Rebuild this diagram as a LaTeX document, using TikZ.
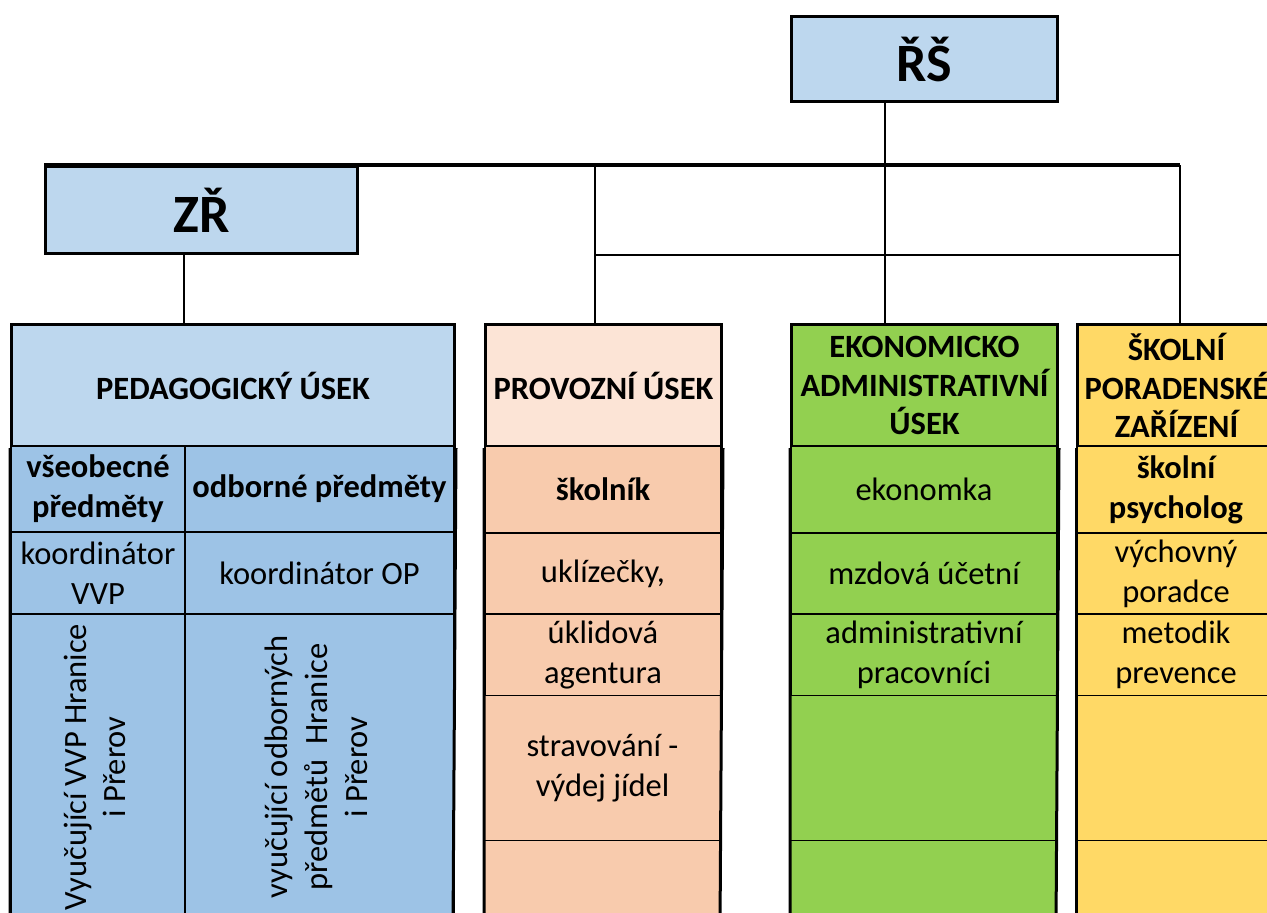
\documentclass[tikz,border=0pt]{standalone}
\usepackage{fontspec}
\setmainfont{Carlito}
\usepackage{tikz}
\usetikzlibrary{positioning}

\definecolor{hdrblue}{HTML}{BDD7EE}
\definecolor{pedblue}{HTML}{9DC3E6}
\definecolor{peach}{HTML}{FCE4D6}
\definecolor{peachdk}{HTML}{F8CBAD}
\definecolor{ekogreen}{HTML}{92D050}
\definecolor{spzyellow}{HTML}{FFD966}

\begin{document}
\begin{tikzpicture}[x=1pt, y=-1pt,
    every node/.append style={align=center, inner sep=0pt, anchor=north west},
    top/.style={draw, line width=3pt, fill=hdrblue, font=\fontsize{54}{60}\selectfont\bfseries},
    hdr/.style={draw, line width=3pt, font=\fontsize{32.5}{38.5}\selectfont\bfseries},
    cell/.style={draw, line width=2pt, font=\fontsize{32.5}{40}\selectfont},
    bold/.style={font=\fontsize{32.5}{40}\selectfont\bfseries},
    low/.style={draw, line width=1pt},
    bus/.style={line width=3.5pt},
    link/.style={line width=2.5pt}]
  \useasboundingbox (0,0) rectangle (1267,913);
  \clip (0,0) rectangle (1267,913);

  \node [top, minimum width=266pt, minimum height=85pt] (rs) at (790,15) {ŘŠ};
  \node [top, minimum width=312pt, minimum height=87pt] (zr) at (44,165) {ZŘ};

  \coordinate (j0) at (184,252);
  \coordinate (j1) at (885,165);
  \coordinate (j2) at (595,165);
  \coordinate (j3) at (1180,165);

  % pedagogicky usek
  \node [hdr, fill=hdrblue, minimum width=443pt, minimum height=122pt] (ped) at (10,323) {PEDAGOGICKÝ ÚSEK};
  \node [cell, bold, fill=pedblue, minimum width=174pt, minimum height=86pt] (vseob) at (10,445) {všeobecné\\předměty};
  \node [cell, bold, fill=pedblue, minimum width=269pt, minimum height=86pt] (odb) at (184,445) {odborné předměty};
  \node [cell, fill=pedblue, minimum width=174pt, minimum height=82pt] (koorV) at (10,531) {koordinátor\\VVP};
  \node [cell, fill=pedblue, minimum width=269pt, minimum height=82pt] (koorO) at (184,531) {koordinátor OP};
  \node [cell, fill=pedblue, minimum width=174pt, minimum height=306pt] (vyuV) at (10,613)
    {\rotatebox{90}{\begin{tabular}{@{}c@{}}Vyučující VVP Hranice\\i Přerov\end{tabular}}};
  \node [cell, fill=pedblue, minimum width=269pt, minimum height=306pt] (vyuO) at (184,613)
    {\rotatebox{90}{\begin{tabular}{@{}c@{}}vyučující odborných\\předmětů\ \ Hranice\\i Přerov\end{tabular}}};
  \draw [line width=3pt] (ped.south west) -- (10,930) (ped.south east) -- (453,930);

  % provozni usek
  \node [hdr, fill=peach, minimum width=236pt, minimum height=122pt] (prov) at (484,323) {PROVOZNÍ ÚSEK};
  \node [cell, bold, fill=peachdk, minimum width=236pt, minimum height=87pt] (skolnik) at (484,445) {školník};
  \node [cell, fill=peachdk, minimum width=236pt, minimum height=81pt] (ukl) at (484,532) {uklízečky,};
  \node [cell, fill=peachdk, minimum width=236pt, minimum height=82pt] (agent) at (484,613) {úklidová\\agentura};
  \node [cell, low, fill=peachdk, minimum width=236pt, minimum height=145pt] (strav) at (484,695) {stravování -\\výdej jídel};
  \node [cell, low, fill=peachdk, minimum width=236pt, minimum height=90pt] (prov5) at (484,840) {};
  \draw [line width=3pt] (prov.south west) -- (484,930) (prov.south east) -- (720,930);

  % ekonomicko administrativni usek
  \node [hdr, fill=ekogreen, minimum width=266pt, minimum height=122pt] (eko) at (790,323) {EKONOMICKO\\ADMINISTRATIVNÍ\\ÚSEK};
  \node [cell, fill=ekogreen, minimum width=266pt, minimum height=87pt] (ekonomka) at (790,445) {ekonomka};
  \node [cell, fill=ekogreen, minimum width=266pt, minimum height=81pt] (mzdova) at (790,532) {mzdová účetní};
  \node [cell, fill=ekogreen, minimum width=266pt, minimum height=82pt] (admin) at (790,613) {administrativní\\pracovníci};
  \node [cell, low, fill=ekogreen, minimum width=266pt, minimum height=145pt] (eko4) at (790,695) {};
  \node [cell, low, fill=ekogreen, minimum width=266pt, minimum height=90pt] (eko5) at (790,840) {};
  \draw [line width=3pt] (eko.south west) -- (790,930) (eko.south east) -- (1056,930);

  % skolni poradenske zarizeni
  \node [hdr, fill=spzyellow, minimum width=198pt, minimum height=122pt] (skol) at (1076,323) {ŠKOLNÍ\\PORADENSKÉ\\ZAŘÍZENÍ};
  \node [cell, bold, fill=spzyellow, minimum width=198pt, minimum height=87pt] (psych) at (1076,445) {školní\\psycholog};
  \node [cell, fill=spzyellow, minimum width=198pt, minimum height=81pt] (vychov) at (1076,532) {výchovný\\poradce};
  \node [cell, fill=spzyellow, minimum width=198pt, minimum height=82pt] (metodik) at (1076,613) {metodik\\prevence};
  \node [cell, low, fill=spzyellow, minimum width=198pt, minimum height=145pt] (skol4) at (1076,695) {};
  \node [cell, low, fill=spzyellow, minimum width=198pt, minimum height=90pt] (skol5) at (1076,840) {};
  \draw [line width=3pt] (skol.south west) -- (1076,930);

  \draw [bus] (zr.north west) -- (j3);
  \draw [link] (rs.south -| j1) -- (eko.north -| j1);
  \draw [link] (j2) -- (prov.north -| j2);
  \draw [link] (j3) -- (skol.north -| j3);
  \draw [link] (j2 |- zr.south) -- (j3 |- zr.south);
  \draw [link] (j0) -- (ped.north -| j0);
\end{tikzpicture}
\end{document}
